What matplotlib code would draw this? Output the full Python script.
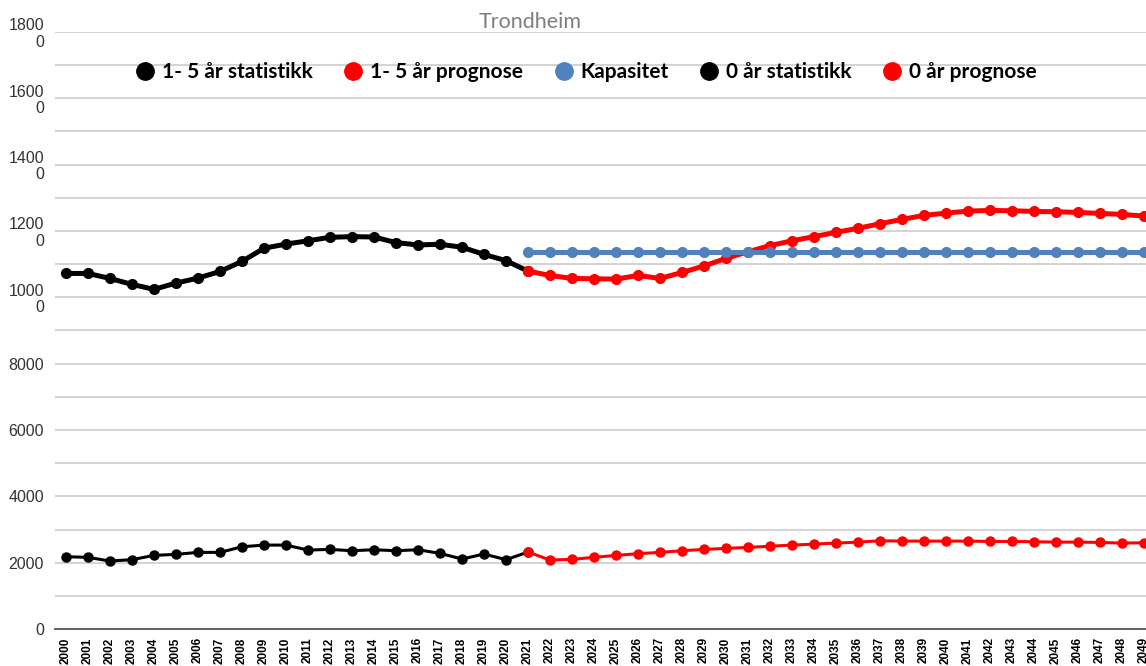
import numpy as np
import matplotlib.pyplot as plt
from matplotlib.lines import Line2D

years = list(range(2000, 2050))

# 1-5 år, statistikk 2000-2021
stat15 = [10720, 10720, 10570, 10390, 10240, 10430, 10580, 10780, 11085, 11480,
          11605, 11705, 11810, 11830, 11820, 11650, 11580, 11600, 11510, 11295,
          11105, 10790]
# 1-5 år, prognose 2021-2049
prog15 = [10790, 10660, 10570, 10560, 10550, 10660, 10570, 10750, 10945, 11175,
          11375, 11560, 11705, 11830, 11960, 12080, 12220, 12350, 12470, 12540,
          12600, 12620, 12610, 12590, 12580, 12560, 12530, 12500, 12450]
# kapasitet 2021-2049
kapasitet = [11360] * 29
# 0 år, statistikk 2000-2021
stat0 = [2180, 2160, 2050, 2090, 2220, 2250, 2310, 2310, 2480, 2530,
         2530, 2380, 2400, 2360, 2390, 2360, 2390, 2280, 2110, 2260,
         2090, 2320]
# 0 år, prognose 2021-2049
prog0 = [2320, 2080, 2100, 2160, 2220, 2270, 2310, 2360, 2400, 2430,
         2460, 2495, 2530, 2560, 2590, 2620, 2660, 2650, 2650, 2650,
         2650, 2640, 2640, 2630, 2620, 2620, 2610, 2590, 2600]

labels = ["1- 5 år statistikk", "1- 5 år prognose", "Kapasitet",
          "0 år statistikk", "0 år prognose"]
colors = ["#000000", "#FF0000", "#4F81BD", "#000000", "#FF0000"]

x_stat = np.arange(len(stat15))
x_prog = np.arange(21, 21 + len(prog15))

fig = plt.figure(figsize=(11.46, 6.66), dpi=100)
ax = fig.add_axes([55 / 1146, 37 / 666, 1100 / 1146, 597 / 666])

ax.plot(x_stat, stat15, color=colors[0], lw=3.6, marker="o", ms=7)
ax.plot(x_prog, prog15, color=colors[1], lw=3.6, marker="o", ms=7)
ax.plot(x_prog, kapasitet, color=colors[2], lw=3.6, marker="o", ms=7)
ax.plot(x_stat, stat0, color=colors[3], lw=2.2, marker="o", ms=6.5)
ax.plot(x_prog, prog0, color=colors[4], lw=2.2, marker="o", ms=6.5)

ax.set_xlim(-0.5, 49.5)
ax.set_ylim(0, 18000)
ax.set_yticks(range(0, 18001, 1000), minor=False)
ylabels = []
for v in range(0, 18001, 1000):
    if v % 2000:
        ylabels.append("")
    elif v >= 10000:
        s = str(v)
        ylabels.append(s[:4] + "\n" + s[4:])
    else:
        ylabels.append(str(v))
ax.set_yticklabels(ylabels, fontsize=11.5, family="Liberation Sans",
                   color="#333333", linespacing=1.1)
ax.tick_params(axis="y", length=0, pad=8)
ax.grid(axis="y", color="#D0D0D0", lw=1.3)
ax.set_axisbelow(True)

ax.set_xticks(range(len(years)))
ax.set_xticklabels([str(y) for y in years], rotation=90, fontsize=8.5,
                   fontweight="bold", family="Liberation Sans")
ax.tick_params(axis="x", length=0, pad=6)

for s in ["top", "right", "left"]:
    ax.spines[s].set_visible(False)
ax.spines["bottom"].set_color("#555555")
ax.spines["bottom"].set_linewidth(1.3)

fig.text(530 / 1146, 1 - 22 / 666, "Trondheim", ha="center", va="center",
         fontsize=15.5, color="#7F7F7F", family="Lato")

handles = [Line2D([], [], marker="o", ls="none", color=c, ms=12.5) for c in colors]
fig.legend(handles, labels, loc="center", ncol=5, frameon=False,
           bbox_to_anchor=(585 / 1146, 1 - 72 / 666),
           prop={"family": "Lato", "weight": "bold", "size": 15},
           handletextpad=0.25, columnspacing=1.4, handlelength=1.1)

fig.savefig("out.png", dpi=100)
